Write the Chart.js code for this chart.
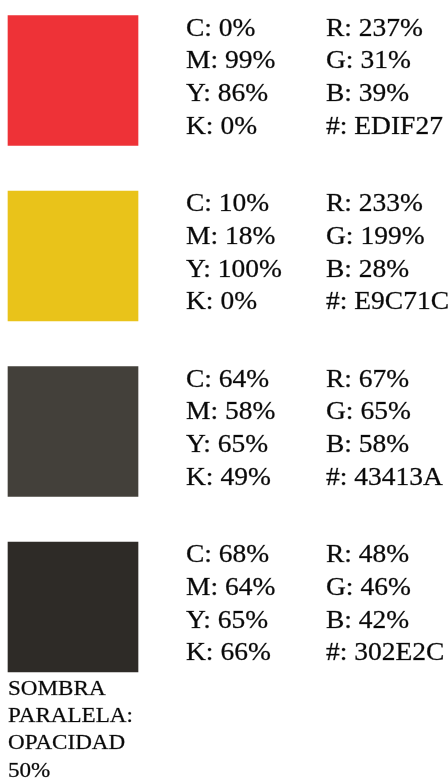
<!DOCTYPE html>
<html>
<head>
<meta charset="utf-8">
<script src="https://cdn.jsdelivr.net/npm/chart.js@4"></script>
<style>
  html, body { margin: 0; padding: 0; background: #ffffff; }
  #wrap { width: 448px; height: 779px; position: relative; }
</style>
</head>
<body>
<div id="wrap"><canvas id="c"></canvas></div>
<script>
// ---- data ----
const swatchNames = ['Rojo', 'Amarillo', 'Gris', 'Negro'];
const swatchColors = ['#EE3237', '#E9C31A', '#43403A', '#2E2B27'];
const cmykC = [0, 10, 64, 68];
const cmykM = [99, 18, 58, 64];
const cmykY = [86, 100, 65, 65];
const cmykK = [0, 0, 49, 66];
const rgbR = [237, 233, 67, 48];
const rgbG = [31, 199, 65, 46];
const rgbB = [39, 28, 58, 42];
const hexCodes = ['EDIF27', 'E9C71C', '43413A', '302E2C'];
const swatchSpan = [0, 1];
const noteLines = ['SOMBRA', 'PARALELA:', 'OPACIDAD', '50%'];

const textPlugin = {
  id: 'swatchText',
  afterDatasetsDraw(chart) {
    const ctx = chart.ctx;
    const meta = chart.getDatasetMeta(0);
    const drawStretched = (txt, x, y, size) => {
      ctx.save();
      ctx.translate(x, y);
      ctx.scale(1.1, 1);
      ctx.font = size + 'px "Liberation Serif", "Times New Roman", serif';
      ctx.fillStyle = '#0a0a0a';
      ctx.strokeStyle = 'rgba(10,10,10,0.55)';
      ctx.lineWidth = 0.45;
      ctx.textBaseline = 'alphabetic';
      ctx.textAlign = 'left';
      ctx.fillText(txt, 0, 0);
      ctx.strokeText(txt, 0, 0);
      ctx.restore();
    };
    meta.data.forEach((bar, i) => {
      const top = bar.y - bar.height / 2;
      const right = bar.x;
      const col1 = ['C: ' + cmykC[i] + '%', 'M: ' + cmykM[i] + '%', 'Y: ' + cmykY[i] + '%', 'K: ' + cmykK[i] + '%'];
      const col2 = ['R: ' + rgbR[i] + '%', 'G: ' + rgbG[i] + '%', 'B: ' + rgbB[i] + '%', '#: ' + hexCodes[i]];
      for (let j = 0; j < 4; j++) {
        const y = top + 20 + j * 32.8;
        drawStretched(col1[j], right + 48, y, 25);
        drawStretched(col2[j], right + 188, y, 25);
      }
      if (i === meta.data.length - 1) {
        const bottom = bar.y + bar.height / 2;
        const left = bar.base;
        noteLines.forEach((ln, k) => {
          drawStretched(ln, left, bottom + 23 + k * 27.2, 21);
        });
      }
    });
  }
};

new Chart(document.getElementById('c'), {
  type: 'bar',
  data: {
    labels: swatchNames,
    datasets: [{
      data: swatchNames.map(() => swatchSpan),
      backgroundColor: swatchColors,
      borderWidth: 0,
      borderSkipped: false,
      barThickness: 130,
      clip: false
    }]
  },
  options: {
    indexAxis: 'y',
    responsive: true,
    maintainAspectRatio: false,
    animation: false,
    layout: { padding: { top: 80.5, bottom: 172, left: 8, right: 50 } },
    plugins: { legend: { display: false }, tooltip: { enabled: false } },
    scales: {
      x: { type: 'linear', min: 0, max: 3, display: false },
      y: { type: 'category', offset: false, display: false }
    }
  },
  plugins: [textPlugin]
});
</script>
</body>
</html>
